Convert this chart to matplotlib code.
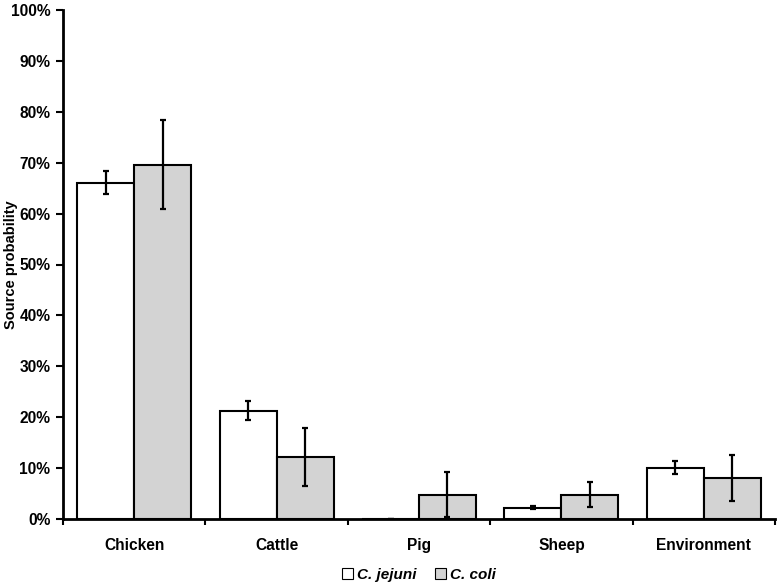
import matplotlib
matplotlib.use('Agg')
import matplotlib.pyplot as plt
import numpy as np

# values (percent)
categories = ['Chicken', 'Cattle', 'Pig', 'Sheep', 'Environment']
jejuni_mean = [66.1, 21.3, 0.0, 2.2, 10.1]
jejuni_err = [2.2, 1.9, 0.0, 0.3, 1.35]
coli_mean = [69.6, 12.2, 4.8, 4.8, 8.1]
coli_err = [8.7, 5.7, 4.4, 2.4, 4.5]
series_names = ['C. jejuni', 'C. coli']

plt.rcParams['font.family'] = ['Liberation Sans', 'DejaVu Sans']
plt.rcParams['font.weight'] = 'bold'

fig = plt.figure(figsize=(7.82, 5.84), dpi=100)
ax = fig.add_axes([63 / 782, 65 / 584, 712 / 782, 509 / 584])

x = np.arange(len(categories))
w = 0.4
ekw = dict(elinewidth=1.6, capthick=1.6)
ax.bar(x - w / 2, jejuni_mean, w, yerr=jejuni_err, color='white', edgecolor='black',
       linewidth=1.5, capsize=2.5, error_kw=ekw, label=series_names[0], zorder=2)
ax.bar(x + w / 2, coli_mean, w, yerr=coli_err, color='#d3d3d3', edgecolor='black',
       linewidth=1.5, capsize=2.5, error_kw=ekw, label=series_names[1], zorder=2)

ax.set_xlim(-0.5, len(categories) - 0.5)
ax.set_ylim(0, 100)
ax.set_yticks(np.arange(0, 101, 10))
ax.set_yticklabels([f'{v}%' for v in range(0, 101, 10)], fontsize=11.2, fontweight='bold')
ax.set_xticks(x)
ax.set_xticklabels(categories, fontsize=11.2, fontweight='bold')
ax.set_xticks(np.arange(-0.5, len(categories), 1.0), minor=True)
ax.tick_params(axis='x', which='major', length=0, pad=14)
ax.tick_params(axis='x', which='minor', length=4, width=1.5, direction='out')
ax.tick_params(axis='y', which='major', length=5, width=1.5, direction='out', pad=4)
ax.set_ylabel('Source probability', fontsize=10.5, fontweight='bold')
ax.yaxis.set_label_coords(-0.063, 0.5)

for s in ['top', 'right']:
    ax.spines[s].set_visible(False)
for s in ['left', 'bottom']:
    ax.spines[s].set_linewidth(2)

leg = ax.legend(loc='upper center', bbox_to_anchor=(0.5, -0.075), ncol=2, frameon=False,
                handlelength=0.7, handleheight=0.7, handletextpad=0.3, columnspacing=1.2,
                borderpad=0.2, prop={'size': 11, 'weight': 'bold', 'style': 'italic'})
for h in leg.legend_handles:
    h.set_linewidth(0.8)

fig.savefig('out.png', dpi=100)
